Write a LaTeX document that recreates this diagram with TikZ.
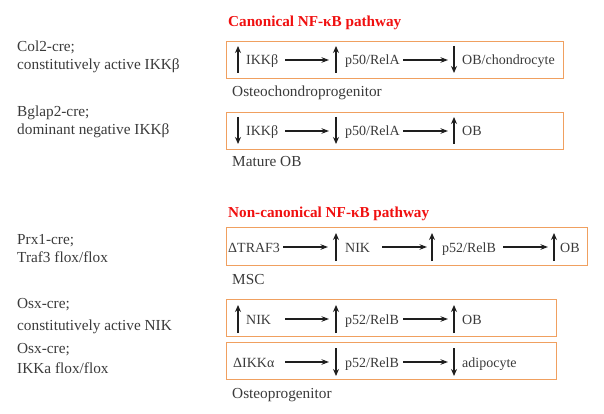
\documentclass[tikz,border=0pt]{standalone}
\usepackage{fontspec}
\setmainfont{Liberation Serif}
\usetikzlibrary{arrows.meta}
\definecolor{txt}{HTML}{3A3A3A}
\definecolor{orng}{HTML}{F0A060}
\definecolor{ttl}{HTML}{F01010}
\definecolor{arr}{HTML}{1E1E1E}
\begin{document}
\begin{tikzpicture}[x=1pt,y=-1pt,
  lbl/.style={anchor=base west, inner sep=0pt, text=txt, font=\fontsize{14}{16}\selectfont},
  big/.style={lbl, font=\fontsize{15.3}{17}\selectfont},
  ttlstyle/.style={anchor=base west, inner sep=0pt, text=ttl, font=\fontsize{15.2}{17}\selectfont\bfseries},
  pbox/.style={draw=orng, line width=1.2pt},
  vert/.style={draw=arr, line width=1.5pt, -{Stealth[length=7pt,width=6pt]}},
  harr/.style={draw=arr, line width=1.1pt, -{Stealth[length=7.5pt,width=5.5pt]}}]
\useasboundingbox (0,0) rectangle (604,414);
% left labels
\node[big] (l1a) at (17,52) {Col2-cre;};
\node[big] (l1b) at (17,70) {constitutively active IKKβ};
\node[big] (l2a) at (17,117) {Bglap2-cre;};
\node[big] (l2b) at (17,135) {dominant negative IKKβ};
\node[big] (l3a) at (17,244) {Prx1-cre;};
\node[big] (l3b) at (17,262) {Traf3 flox/flox};
\node[big] (l4a) at (17,308) {Osx-cre;};
\node[big] (l4b) at (17,330) {constitutively active NIK};
\node[big] (l5a) at (17,353) {Osx-cre;};
\node[big] (l5b) at (17,373) {IKKa flox/flox};
% titles
\node[ttlstyle] (t1) at (228,27) {Canonical NF-κB pathway};
\node[ttlstyle] (t2) at (228,217) {Non-canonical NF-κB pathway};
% boxes
\node[pbox, inner sep=0pt, minimum width=337pt, minimum height=37pt, anchor=north west] (b1) at (226,41) {};
\node[pbox, inner sep=0pt, minimum width=337pt, minimum height=37pt, anchor=north west] (b2) at (226,112) {};
\node[pbox, inner sep=0pt, minimum width=361pt, minimum height=38pt, anchor=north west] (b3) at (226,227) {};
\node[pbox, inner sep=0pt, minimum width=330pt, minimum height=37pt, anchor=north west] (b4) at (226,299) {};
\node[pbox, inner sep=0pt, minimum width=330pt, minimum height=37pt, anchor=north west] (b5) at (226,342) {};
% cell labels
\node[big] (c1) at (232,97) {Osteochondroprogenitor};
\node[big] (c2) at (232,167) {Mature OB};
\node[big] (c3) at (232,284) {MSC};
\node[big] (c5) at (232,398) {Osteoprogenitor};
% ---- box 1 ----
\node[lbl] (a1) at (246,65) {IKKβ};
\node[lbl] (a2) at (345,65) {p50/RelA};
\node[lbl] (a3) at (462,65) {OB/chondrocyte};
\coordinate (v1a) at (238,73); \coordinate (v1b) at (238,46);
\coordinate (v2a) at (336,73); \coordinate (v2b) at (336,46);
\coordinate (v3a) at (454,46); \coordinate (v3b) at (454,73);
\coordinate (h1a) at (285,60); \coordinate (h1b) at (329,60);
\coordinate (h2a) at (403,60); \coordinate (h2b) at (448,60);
\draw[vert] (v1a) -- (v1b);
\draw[vert] (v2a) -- (v2b);
\draw[vert] (v3a) -- (v3b);
\draw[harr] (h1a) -- (h1b);
\draw[harr] (h2a) -- (h2b);
% ---- box 2 ----
\node[lbl] (d1) at (246,136) {IKKβ};
\node[lbl] (d2) at (345,136) {p50/RelA};
\node[lbl] (d3) at (462,136) {OB};
\coordinate (w1a) at (238,117); \coordinate (w1b) at (238,144);
\coordinate (w2a) at (336,117); \coordinate (w2b) at (336,144);
\coordinate (w3a) at (454,144); \coordinate (w3b) at (454,117);
\coordinate (g1a) at (285,131); \coordinate (g1b) at (329,131);
\coordinate (g2a) at (403,131); \coordinate (g2b) at (448,131);
\draw[vert] (w1a) -- (w1b);
\draw[vert] (w2a) -- (w2b);
\draw[vert] (w3a) -- (w3b);
\draw[harr] (g1a) -- (g1b);
\draw[harr] (g2a) -- (g2b);
% ---- box 3 ----
\node[lbl] (e1) at (228,252) {ΔTRAF3};
\node[lbl] (e2) at (345,252) {NIK};
\node[lbl] (e3) at (442,252) {p52/RelB};
\node[lbl] (e4) at (560,252) {OB};
\coordinate (x1a) at (336,261); \coordinate (x1b) at (336,233);
\coordinate (x2a) at (432,261); \coordinate (x2b) at (432,233);
\coordinate (x3a) at (554,261); \coordinate (x3b) at (554,233);
\coordinate (k1a) at (283,247); \coordinate (k1b) at (328,247);
\coordinate (k2a) at (382,247); \coordinate (k2b) at (427,247);
\coordinate (k3a) at (503,247); \coordinate (k3b) at (548,247);
\draw[vert] (x1a) -- (x1b);
\draw[vert] (x2a) -- (x2b);
\draw[vert] (x3a) -- (x3b);
\draw[harr] (k1a) -- (k1b);
\draw[harr] (k2a) -- (k2b);
\draw[harr] (k3a) -- (k3b);
% ---- box 4 ----
\node[lbl] (f1) at (246,324) {NIK};
\node[lbl] (f2) at (345,324) {p52/RelB};
\node[lbl] (f3) at (462,324) {OB};
\coordinate (y1a) at (238,333); \coordinate (y1b) at (238,305);
\coordinate (y2a) at (336,333); \coordinate (y2b) at (336,305);
\coordinate (y3a) at (454,333); \coordinate (y3b) at (454,305);
\coordinate (m1a) at (285,319); \coordinate (m1b) at (329,319);
\coordinate (m2a) at (403,319); \coordinate (m2b) at (448,319);
\draw[vert] (y1a) -- (y1b);
\draw[vert] (y2a) -- (y2b);
\draw[vert] (y3a) -- (y3b);
\draw[harr] (m1a) -- (m1b);
\draw[harr] (m2a) -- (m2b);
% ---- box 5 ----
\node[lbl] (p1) at (233,367) {ΔIKKα};
\node[lbl] (p2) at (345,367) {p52/RelB};
\node[lbl] (p3) at (462,367) {adipocyte};
\coordinate (z2a) at (336,348); \coordinate (z2b) at (336,376);
\coordinate (z3a) at (454,348); \coordinate (z3b) at (454,376);
\coordinate (n1a) at (285,362); \coordinate (n1b) at (329,362);
\coordinate (n2a) at (403,362); \coordinate (n2b) at (448,362);
\draw[vert] (z2a) -- (z2b);
\draw[vert] (z3a) -- (z3b);
\draw[harr] (n1a) -- (n1b);
\draw[harr] (n2a) -- (n2b);
\end{tikzpicture}
\end{document}
